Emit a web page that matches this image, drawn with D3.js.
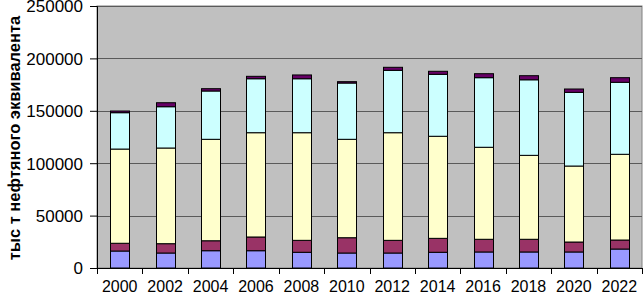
<!DOCTYPE html>
<html>
<head>
<meta charset="utf-8">
<script src="https://cdn.jsdelivr.net/npm/d3@7"></script>
<style>
  body { margin: 0; background: #fff; }
  svg { display: block; font-family: "Liberation Sans", Arial, sans-serif; }
</style>
</head>
<body>
<svg id="chart" width="644" height="301"></svg>
<script>
// years on the x axis
const years = ['2000','2002','2004','2006','2008','2010','2012','2014','2016','2018','2020','2022'];
// stacked series, bottom to top
const blue   = [16200,14300,16500,16500,15000,14300,14300,15000,15300,15300,15300,18100];
const red    = [7400,8900,9500,13100,11400,14600,12100,13300,12100,12100,9500,8600];
const yellow = [89900,91300,96800,99500,102700,93900,102700,97400,87800,80100,72500,81800];
const cyan   = [34700,39400,46100,51500,51500,53700,59500,59100,66400,72100,70300,68700];
const purple = [1600,3800,2200,2300,3600,1300,2900,2900,3800,3900,3200,4400];
const yTicks = [0,50000,100000,150000,200000,250000];

const keys = ['blue','red','yellow','cyan','purple'];
const colors = {blue:'#9999FF', red:'#993366', yellow:'#FFFFCC', cyan:'#CCFFFF', purple:'#660066'};
const rows = years.map((y, i) => ({year: y, blue: blue[i], red: red[i], yellow: yellow[i], cyan: cyan[i], purple: purple[i]}));

const margin = {top: 6, right: 2, bottom: 33, left: 97};
const svg = d3.select('#chart');
const W = +svg.attr('width'), H = +svg.attr('height');
const w = W - margin.left - margin.right, h = H - margin.top - margin.bottom;

const x = d3.scaleBand().domain(years).range([0, w]).paddingInner(0).paddingOuter(0);
const y = d3.scaleLinear().domain([0, 250000]).range([h, 0]);

const g = svg.append('g').attr('transform', `translate(${margin.left},${margin.top})`);

//// plot area
g.append('rect').attr('width', w).attr('height', h)
  .attr('fill', '#C0C0C0').attr('stroke', '#808080');

//// gridlines
g.selectAll('.grid').data(yTicks.slice(1)).enter().append('line')
  .attr('x1', 0).attr('x2', w)
  .attr('y1', d => Math.round(y(d)) + 0.5).attr('y2', d => Math.round(y(d)) + 0.5)
  .attr('stroke', '#5a5a5a');

//// stacked bars
const series = d3.stack().keys(keys)(rows);
const bw = 19;
g.selectAll('.layer').data(series).enter().append('g')
  .attr('fill', d => colors[d.key])
  .selectAll('rect').data(d => d).enter().append('rect')
  .attr('x', d => Math.round(x(d.data.year) + x.bandwidth() / 2 - bw / 2) + 0.5)
  .attr('width', bw)
  .attr('y', d => y(d[1]))
  .attr('height', d => y(d[0]) - y(d[1]))
  .attr('stroke', '#000').attr('stroke-width', 1);

//// y axis
const yAxis = g.append('g')
  .call(d3.axisLeft(y).tickValues(yTicks).tickSize(7).tickPadding(7).tickFormat(d3.format('d')));
yAxis.select('.domain').attr('stroke', '#000');
yAxis.selectAll('text').attr('font-size', 17).attr('fill', '#000').attr('dy', '0.35em')
  .attr('font-family', '"Liberation Sans", Arial, sans-serif');

//// x axis, ticks between categories
const xAxis = g.append('g').attr('transform', `translate(0,${h})`)
  .call(d3.axisBottom(x).tickSize(0).tickPadding(13));
xAxis.select('.domain').attr('stroke', '#000');
xAxis.selectAll('text').attr('font-size', 16).attr('fill', '#000').attr('font-family', '"Liberation Sans", Arial, sans-serif');
xAxis.selectAll('.sep').data(d3.range(years.length + 1)).enter().append('line')
  .attr('x1', i => Math.round(i * x.bandwidth()) + 0.5).attr('x2', i => Math.round(i * x.bandwidth()) + 0.5)
  .attr('y1', 0).attr('y2', 6).attr('stroke', '#000');

//// y title
svg.append('text')
  .attr('transform', `translate(20,${margin.top + h / 2 + 1}) rotate(-90)`)
  .attr('text-anchor', 'middle')
  .attr('font-size', 16.5).attr('font-weight', 'bold')
  .text('тыс т нефтяного эквивалента');
</script>
</body>
</html>
